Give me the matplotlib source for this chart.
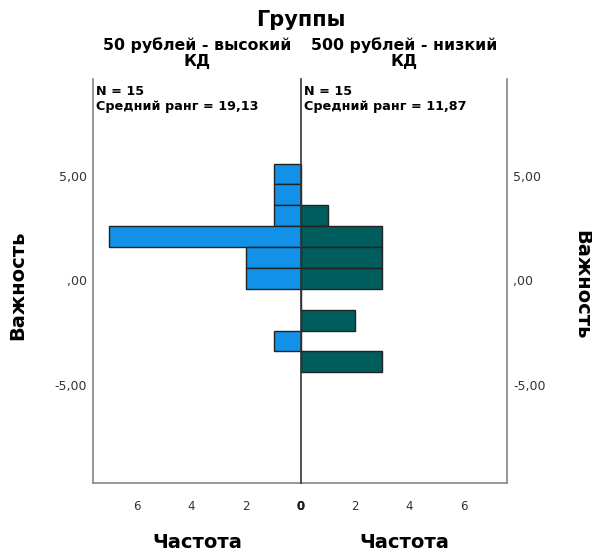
import numpy as np
import matplotlib.pyplot as plt

plt.rcParams['font.family'] = ['DejaVu Sans']

# histogram bins (lower edges), width 1
bin_lo = [4.6, 3.6, 2.6, 1.6, 0.6, -0.4, -1.4, -2.4, -3.4, -4.4]
bin_w = 1.0
counts_high = [1, 1, 1, 7, 2, 2, 0, 0, 1, 0]   # 50 рублей - высокий КД
counts_low = [0, 0, 1, 3, 3, 3, 0, 2, 0, 3]    # 500 рублей - низкий КД

groups = ['50 рублей - высокий\nКД', '500 рублей - низкий\nКД']
n_vals = [15, 15]
mean_ranks = ['19,13', '11,87']
y_ticks = [5, 0, -5]
y_tick_labels = ['5,00', ',00', '-5,00']
x_ticks = [0, 2, 4, 6]

COLORS = ['#1192E8', '#005D5D']
XMAX = 7.6
YLIM = (-9.7, 9.65)

fig = plt.figure(figsize=(5.92, 5.54), dpi=100)
W, H = 592, 554
x0, xc, x1 = 93, 301, 507
ytop, ybot = 79, 483
ax_l = fig.add_axes([x0 / W, 1 - ybot / H, (xc - x0) / W, (ybot - ytop) / H])
ax_r = fig.add_axes([xc / W, 1 - ybot / H, (x1 - xc) / W, (ybot - ytop) / H])

for ax, cnt, color in zip([ax_l, ax_r], [counts_high, counts_low], COLORS):
    ax.barh(bin_lo, cnt, height=bin_w, align='edge', color=color,
            edgecolor='#222222', linewidth=1.0, zorder=2)
    ax.set_ylim(*YLIM)
    ax.set_xticks(x_ticks)
    ax.set_xticklabels([str(t) for t in x_ticks], fontsize=8.5, color='#333333')
    ax.tick_params(axis='both', length=0)
    ax.tick_params(axis='x', pad=12)
    ax.spines['top'].set_visible(False)
    for s in ax.spines.values():
        s.set_color('#888888')
        s.set_linewidth(1.2)

ax_l.set_xlim(XMAX, 0)
ax_r.set_xlim(0, XMAX)

# left panel: ticks on the left; right panel: ticks on the right
ax_l.set_yticks(y_ticks)
ax_l.set_yticklabels(y_tick_labels, fontsize=9, color='#333333')
ax_l.tick_params(axis='y', pad=4.5)
ax_l.spines['right'].set_visible(False)

ax_r.yaxis.tick_right()
ax_r.set_yticks(y_ticks)
ax_r.set_yticklabels(y_tick_labels, fontsize=9, color='#333333')
ax_r.tick_params(axis='y', pad=4.5)
ax_r.spines['left'].set_color('#333333')
ax_r.spines['left'].set_zorder(3)

for lbl in ax_l.get_xticklabels() + ax_r.get_xticklabels():
    if lbl.get_text() == '0':
        lbl.set_fontweight('bold')
        lbl.set_color('#222222')

# group stats in each panel
for ax, n, r in zip([ax_l, ax_r], n_vals, mean_ranks):
    ax.text(0.015, 0.985, f'N = {n}\nСредний ранг = {r}', transform=ax.transAxes,
            ha='left', va='top', fontsize=9.2, fontweight='bold', linespacing=1.15)

fig.text(xc / W, 1 - 20 / H, 'Группы', ha='center', va='center',
         fontsize=15, fontweight='bold')
fig.text(197 / W, 1 - 53 / H, groups[0], ha='center', va='center',
         fontsize=11.3, fontweight='bold', linespacing=1.12)
fig.text(404 / W, 1 - 53 / H, groups[1], ha='center', va='center',
         fontsize=11.3, fontweight='bold', linespacing=1.12)

fig.text(197 / W, 1 - 543 / H, 'Частота', ha='center', va='center',
         fontsize=14, fontweight='bold')
fig.text(404 / W, 1 - 543 / H, 'Частота', ha='center', va='center',
         fontsize=14, fontweight='bold')

fig.text(18 / W, 1 - 285 / H, 'Важность', ha='center', va='center',
         rotation=90, fontsize=14, fontweight='bold')
fig.text(582 / W, 1 - 285 / H, 'Важность', ha='center', va='center',
         rotation=270, fontsize=14, fontweight='bold')

fig.savefig('out.png', dpi=100)
